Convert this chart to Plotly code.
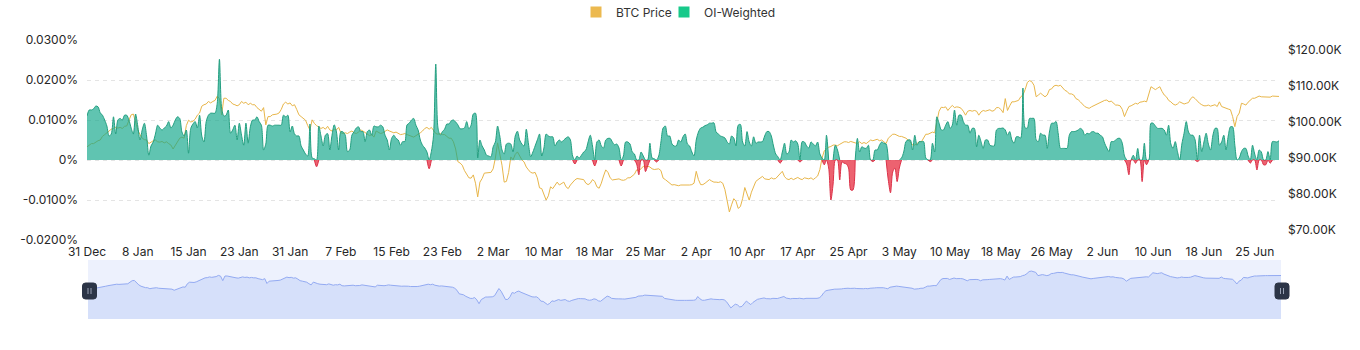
import numpy as np
import pandas as pd
import plotly.graph_objects as go

# OI-weighted funding rate (%), one value per 8-hour settlement
oi_weighted = [
    0.0110, 0.0125, 0.0125, 0.0128, 0.0135, 0.0133, 0.0118, 0.0112, 0.0100, 0.0085, 0.0060, 0.0065, 0.0108, 0.0065, 0.0100, 0.0104, 0.0100, 0.0112,
    0.0112, 0.0100, 0.0080, 0.0065, 0.0115, 0.0085, 0.0050, 0.0075, 0.0092, 0.0060, 0.0012, 0.0035, 0.0045, 0.0065, 0.0087, 0.0080, 0.0075, 0.0080,
    0.0085, 0.0096, 0.0080, 0.0087, 0.0100, 0.0108, 0.0104, 0.0070, 0.0060, 0.0075, 0.0017, 0.0079, 0.0090, 0.0096, 0.0080, 0.0112, 0.0060, 0.0045,
    0.0096, 0.0112, 0.0117, 0.0117, 0.0117, 0.0142, 0.0252, 0.0130, 0.0110, 0.0112, 0.0125, 0.0067, 0.0075, 0.0087, 0.0050, 0.0092, 0.0062, 0.0037,
    0.0092, 0.0042, 0.0083, 0.0100, 0.0100, 0.0108, 0.0096, 0.0087, 0.0025, 0.0040, 0.0087, 0.0087, 0.0085, 0.0087, 0.0087, 0.0087, 0.0087, 0.0112,
    0.0108, 0.0112, 0.0070, 0.0085, 0.0065, 0.0060, 0.0060, 0.0035, 0.0025, 0.0015, 0.0010, 0.0090, 0.0005, 0.0003, -0.0017, 0.0085, 0.0060, 0.0035,
    0.0062, 0.0066, 0.0025, 0.0062, 0.0088, 0.0070, 0.0025, 0.0071, 0.0070, 0.0062, 0.0021, 0.0025, 0.0062, 0.0071, 0.0080, 0.0083, 0.0071, 0.0071,
    0.0046, 0.0071, 0.0075, 0.0062, 0.0085, 0.0083, 0.0083, 0.0087, 0.0083, 0.0062, 0.0050, 0.0025, 0.0054, 0.0062, 0.0054, 0.0050, 0.0037, 0.0046,
    0.0046, 0.0088, 0.0092, 0.0100, 0.0104, 0.0087, 0.0075, 0.0050, 0.0037, 0.0030, 0.0020, -0.0022, 0.0021, 0.0062, 0.0240, 0.0080, 0.0062, 0.0071,
    0.0077, 0.0090, 0.0090, 0.0098, 0.0100, 0.0095, 0.0088, 0.0078, 0.0078, 0.0080, 0.0096, 0.0078, 0.0087, 0.0115, 0.0117, 0.0005, 0.0050, 0.0035,
    0.0025, 0.0012, 0.0010, 0.0008, 0.0033, 0.0045, 0.0085, 0.0060, 0.0025, 0.0015, 0.0040, 0.0042, 0.0040, 0.0020, 0.0060, 0.0072, 0.0050, 0.0040,
    0.0035, 0.0077, 0.0040, 0.0008, 0.0020, 0.0035, 0.0050, 0.0065, 0.0010, 0.0030, 0.0065, 0.0060, 0.0058, 0.0058, 0.0035, 0.0045, 0.0050, 0.0045,
    0.0050, 0.0055, 0.0058, 0.0050, 0.0010, -0.0010, 0.0010, 0.0005, 0.0012, 0.0020, 0.0025, 0.0045, 0.0062, 0.0035, -0.0015, 0.0045, 0.0050, 0.0035,
    0.0030, 0.0050, 0.0054, 0.0054, 0.0045, 0.0038, 0.0040, 0.0030, -0.0015, 0.0010, 0.0045, 0.0045, 0.0040, 0.0020, 0.0015, -0.0010, -0.0037, 0.0020,
    0.0010, -0.0029, -0.0015, 0.0042, 0.0005, 0.0003, -0.0005, 0.0010, 0.0045, 0.0080, 0.0085, 0.0060, 0.0060, 0.0040, 0.0035, 0.0035, 0.0050, 0.0045,
    0.0058, 0.0065, 0.0040, 0.0035, 0.0020, 0.0010, 0.0050, 0.0070, 0.0080, 0.0082, 0.0086, 0.0088, 0.0092, 0.0092, 0.0093, 0.0070, 0.0065, 0.0060,
    0.0058, 0.0055, 0.0045, 0.0040, 0.0060, 0.0055, 0.0035, 0.0087, 0.0089, 0.0045, 0.0035, 0.0071, 0.0045, 0.0035, 0.0058, 0.0042, 0.0045, 0.0045,
    0.0046, 0.0060, 0.0071, 0.0071, 0.0060, 0.0035, 0.0015, 0.0008, -0.0008, 0.0020, 0.0042, 0.0015, 0.0020, 0.0050, 0.0045, 0.0048, 0.0040, -0.0005,
    0.0046, 0.0045, 0.0035, 0.0030, 0.0045, 0.0040, 0.0035, 0.0045, 0.0015, 0.0005, -0.0012, 0.0062, -0.0020, -0.0100, -0.0060, 0.0037, 0.0025, -0.0050,
    -0.0005, -0.0008, -0.0010, -0.0020, -0.0075, -0.0075, 0.0000, 0.0054, 0.0020, 0.0033, 0.0030, 0.0029, 0.0037, 0.0000, -0.0004, 0.0025, 0.0025, 0.0037,
    0.0045, 0.0042, 0.0040, -0.0050, -0.0082, -0.0030, -0.0020, -0.0054, -0.0020, 0.0005, 0.0020, 0.0046, 0.0050, 0.0050, 0.0025, 0.0062, 0.0037, 0.0046,
    0.0046, 0.0046, 0.0005, 0.0000, -0.0004, 0.0042, 0.0020, 0.0108, 0.0092, 0.0075, 0.0075, 0.0087, 0.0096, 0.0079, 0.0087, 0.0125, 0.0087, 0.0112,
    0.0112, 0.0096, 0.0087, 0.0087, 0.0067, 0.0079, 0.0079, 0.0033, 0.0062, 0.0046, 0.0029, 0.0050, 0.0050, 0.0037, 0.0035, 0.0035, 0.0075, 0.0079,
    0.0079, 0.0080, 0.0075, 0.0062, 0.0071, 0.0050, 0.0042, 0.0058, 0.0058, 0.0055, 0.0180, 0.0080, 0.0080, 0.0104, 0.0104, 0.0104, 0.0050, 0.0046,
    0.0067, 0.0062, 0.0062, 0.0029, 0.0070, 0.0092, 0.0092, 0.0096, 0.0065, 0.0029, 0.0029, 0.0029, 0.0029, 0.0062, 0.0071, 0.0071, 0.0072, 0.0075,
    0.0079, 0.0075, 0.0062, 0.0067, 0.0065, 0.0070, 0.0071, 0.0067, 0.0067, 0.0062, 0.0058, 0.0042, 0.0030, 0.0021, 0.0046, 0.0046, 0.0050, 0.0054,
    0.0054, 0.0042, 0.0010, -0.0010, -0.0037, 0.0000, 0.0012, -0.0008, 0.0029, 0.0000, -0.0054, 0.0042, -0.0012, 0.0000, 0.0092, 0.0092, 0.0085, 0.0079,
    0.0079, 0.0079, 0.0075, 0.0062, 0.0087, 0.0040, 0.0029, 0.0046, 0.0021, 0.0000, 0.0040, 0.0067, 0.0096, 0.0070, 0.0062, 0.0062, 0.0050, -0.0004,
    0.0062, 0.0021, 0.0045, 0.0067, 0.0040, 0.0025, 0.0060, 0.0079, 0.0079, 0.0037, 0.0045, 0.0062, 0.0025, 0.0060, 0.0083, 0.0083, 0.0037, 0.0000,
    0.0005, 0.0021, 0.0029, 0.0029, 0.0010, -0.0008, 0.0037, 0.0015, -0.0025, 0.0025, 0.0020, -0.0012, -0.0012, 0.0021, -0.0008, 0.0046, 0.0046, 0.0045,
    0.0048,
]

# BTC price (thousand USD) at the same settlement times
btc_price = [
    93.1, 93.5, 94.0, 94.0, 94.5, 94.8, 95.0, 96.0, 96.5, 97.0, 97.5, 98.0, 98.2, 98.5, 98.3, 98.5, 98.2, 98.8,
    98.9, 100.5, 102.0, 102.2, 99.6, 97.8, 96.5, 95.5, 95.1, 95.0, 94.0, 94.5, 94.8, 95.0, 94.5, 94.4, 94.6, 94.2,
    94.5, 94.0, 93.6, 92.5, 93.5, 94.5, 95.5, 95.8, 95.5, 99.0, 100.5, 100.0, 100.2, 100.8, 101.9, 102.5, 104.4, 104.8,
    105.0, 105.7, 105.3, 105.7, 106.0, 107.2, 106.5, 102.0, 106.6, 106.6, 106.0, 105.7, 105.0, 104.8, 104.5, 104.8, 105.7, 105.2,
    105.5, 104.8, 105.2, 104.8, 104.8, 104.0, 103.5, 103.0, 104.0, 99.2, 101.5, 101.5, 102.0, 102.0, 102.2, 102.5, 103.5, 105.0,
    105.5, 105.0, 105.3, 104.5, 104.8, 103.5, 102.0, 101.5, 101.0, 100.5, 99.0, 97.8, 100.6, 99.6, 99.0, 98.5, 98.2, 98.5,
    98.0, 98.8, 97.8, 97.5, 98.0, 97.8, 98.5, 97.0, 96.8, 97.0, 96.8, 97.2, 97.5, 97.0, 96.8, 97.2, 97.8, 97.5,
    97.0, 96.5, 96.2, 96.5, 95.8, 97.5, 97.2, 96.8, 97.0, 97.3, 97.8, 97.5, 97.2, 97.0, 97.2, 96.8, 96.5, 96.6,
    96.8, 96.5, 96.2, 96.0, 95.8, 96.2, 96.5, 97.0, 97.5, 98.2, 98.5, 98.0, 98.5, 97.5, 96.8, 96.6, 96.8, 96.5,
    96.5, 96.0, 95.5, 95.5, 94.5, 92.5, 89.0, 88.6, 88.0, 86.5, 85.5, 84.5, 84.4, 85.3, 83.0, 79.2, 83.3, 84.3,
    85.8, 85.8, 86.0, 86.0, 87.0, 90.0, 94.2, 91.5, 88.0, 83.3, 83.5, 86.0, 90.3, 89.5, 91.0, 91.7, 90.5, 89.5,
    88.9, 87.5, 86.7, 86.0, 85.8, 86.0, 84.5, 81.7, 81.5, 80.0, 78.3, 79.5, 82.0, 81.5, 82.5, 83.3, 82.5, 83.0,
    83.3, 82.0, 81.5, 82.5, 83.3, 83.9, 84.3, 84.2, 84.0, 84.0, 83.0, 82.6, 83.0, 84.0, 83.5, 82.0, 81.6, 83.0,
    85.0, 86.7, 86.0, 84.5, 83.9, 84.0, 84.0, 84.2, 83.9, 83.8, 84.0, 84.5, 84.5, 85.0, 85.5, 86.7, 86.5, 87.0,
    87.7, 87.5, 87.7, 87.5, 87.0, 86.8, 86.8, 87.0, 86.5, 84.4, 84.0, 83.5, 83.0, 82.5, 82.6, 82.5, 82.3, 82.5,
    82.5, 82.5, 82.3, 82.5, 82.6, 83.0, 86.3, 84.0, 82.6, 82.6, 83.0, 83.5, 84.0, 83.6, 83.3, 83.3, 83.2, 83.4,
    83.0, 81.2, 78.0, 75.0, 77.0, 78.7, 78.0, 76.0, 76.5, 78.7, 81.8, 80.0, 78.3, 80.5, 82.0, 83.5, 84.0, 84.5,
    84.9, 84.2, 84.0, 84.0, 84.5, 84.2, 84.3, 85.0, 85.5, 86.3, 84.8, 84.2, 84.0, 84.4, 84.0, 84.3, 84.6, 84.2,
    84.0, 84.5, 84.4, 84.2, 84.5, 84.0, 84.5, 85.0, 86.8, 90.0, 92.0, 92.5, 93.0, 93.2, 93.6, 93.6, 93.4, 93.8,
    94.2, 94.5, 94.5, 94.3, 94.6, 94.5, 94.2, 94.0, 94.5, 94.0, 94.3, 94.0, 94.5, 95.0, 94.8, 95.0, 95.2, 94.8,
    95.0, 94.5, 94.0, 95.5, 96.0, 96.6, 96.6, 96.3, 96.0, 96.0, 95.8, 95.5, 95.0, 94.5, 93.6, 93.6, 94.0, 94.5,
    94.5, 95.5, 96.6, 96.6, 97.0, 97.2, 97.0, 100.5, 103.0, 104.1, 104.0, 104.2, 103.2, 104.0, 104.6, 104.0, 104.2, 104.1,
    103.8, 103.0, 101.9, 103.0, 103.2, 103.0, 103.2, 103.0, 101.9, 102.8, 103.2, 103.0, 103.2, 103.4, 103.0, 103.2, 104.0, 104.0,
    103.5, 102.6, 106.5, 103.2, 104.5, 105.6, 105.6, 105.8, 106.0, 107.0, 107.5, 109.0, 111.0, 111.5, 111.2, 110.2, 107.0, 107.5,
    108.0, 107.5, 107.0, 107.5, 109.0, 109.2, 110.0, 110.2, 110.0, 110.2, 109.5, 108.8, 108.5, 107.8, 107.8, 107.5, 106.5, 106.2,
    105.6, 105.0, 104.3, 104.0, 103.8, 104.2, 104.5, 104.7, 105.2, 105.5, 105.8, 106.0, 106.1, 105.6, 105.8, 105.2, 104.7, 104.7,
    104.5, 103.5, 101.5, 103.0, 104.3, 104.5, 104.8, 105.2, 105.0, 105.5, 105.6, 105.8, 105.6, 107.5, 109.8, 109.4, 109.0, 109.4,
    109.8, 108.5, 107.5, 107.0, 106.0, 105.6, 105.0, 104.7, 105.0, 105.6, 105.2, 105.0, 105.2, 105.4, 106.5, 107.0, 106.5, 105.8,
    105.2, 104.8, 104.5, 104.5, 104.7, 104.4, 104.5, 104.8, 104.3, 105.6, 104.3, 104.0, 103.8, 103.6, 103.4, 101.5, 98.7, 101.5,
    102.5, 105.2, 105.0, 104.7, 105.5, 106.2, 106.6, 106.6, 106.8, 107.2, 107.0, 107.0, 107.0, 107.0, 106.9, 107.2, 107.2, 107.0,
    107.1,
]

# x-axis labels, one every 23 settlements
date_labels = [
    "31 Dec", "8 Jan", "15 Jan", "23 Jan", "31 Jan", "7 Feb", "15 Feb", "23 Feb",
    "2 Mar", "10 Mar", "18 Mar", "25 Mar", "2 Apr", "10 Apr", "17 Apr", "25 Apr",
    "3 May", "10 May", "18 May", "26 May", "2 Jun", "10 Jun", "18 Jun", "25 Jun",
]
label_every = 23

rate_ticks = [-0.02, -0.01, 0.0, 0.01, 0.02, 0.03]
rate_tick_labels = ["-0.0200%", "-0.0100%", "0%", "0.0100%", "0.0200%", "0.0300%"]
price_ticks = [70, 80, 90, 100, 110, 120]
price_tick_labels = ["$70.00K", "$80.00K", "$90.00K", "$100.00K", "$110.00K", "$120.00K"]

assert len(oi_weighted) == len(btc_price)

times = pd.date_range("2024-12-31 08:00", periods=len(oi_weighted), freq="8h")
tick_times = times[::label_every][: len(date_labels)]

# split the funding curve into positive (green) and negative (red) bands
rate = np.array(oi_weighted)
prev_r = np.r_[rate[0], rate[:-1]]
next_r = np.r_[rate[1:], rate[-1]]
pos_keep = (rate > 0) | (prev_r > 0) | (next_r > 0)
neg_keep = (rate < 0) | (prev_r < 0) | (next_r < 0)
pos_band = np.where(pos_keep, np.maximum(rate, 0), np.nan)
neg_band = np.where(neg_keep, np.minimum(rate, 0), np.nan)

price = np.array(btc_price)
span = price.max() - price.min()
nav_range = [price.min() - 0.3 * span, price.max() + 0.3 * span]

FONT = "Inter, Roboto, sans-serif"
TICK_COLOR = "#262626"
GRID = "#e4e4e4"

# pixel layout of the page
W, H = 1360, 350
ML, MR, MT, MB = 87, 79, 40, 31
pw, ph = W - ML - MR, H - MT - MB
main_right = 1279
nav_left = 88
main_bottom, nav_top = 240, 260
main_dom_x = [0, (main_right - ML) / pw]
nav_dom_x = [(nav_left - ML) / pw, 1]
main_dom_y = [(H - MB - main_bottom) / ph, 1]
nav_dom_y = [0, (H - MB - nav_top) / ph]

fig = go.Figure()

fig.add_trace(go.Scatter(
    x=times, y=price, xaxis="x", yaxis="y", mode="lines",
    line=dict(color="#e8b64a", width=1), name="BTC Price",
    showlegend=False, hoverinfo="skip",
))
fig.add_trace(go.Scatter(
    x=times, y=pos_band, xaxis="x", yaxis="y2", mode="lines",
    line=dict(color="#239f80", width=1, shape="spline", smoothing=0.8),
    fill="tozeroy", fillcolor="rgba(20,168,140,0.68)",
    name="OI-Weighted", showlegend=False, hoverinfo="skip",
))
fig.add_trace(go.Scatter(
    x=times, y=neg_band, xaxis="x", yaxis="y2", mode="lines",
    line=dict(color="#dc3148", width=1, shape="spline", smoothing=0.8),
    fill="tozeroy", fillcolor="rgba(230,31,51,0.7)",
    name="OI-Weighted (negative)", showlegend=False, hoverinfo="skip",
))

# legend swatches, one legend box each so they can sit close together
fig.add_trace(go.Scatter(
    x=[None], y=[None], mode="markers", name="BTC Price",
    marker=dict(symbol="square", size=11, color="#ecb94f"),
    xaxis="x", yaxis="y", legend="legend",
))
fig.add_trace(go.Scatter(
    x=[None], y=[None], mode="markers", name="OI-Weighted",
    marker=dict(symbol="square", size=11, color="#17c98a"),
    xaxis="x", yaxis="y", legend="legend2",
))

# overview navigator below the chart
fig.add_trace(go.Scatter(
    x=times, y=price, xaxis="x2", yaxis="y3", mode="lines",
    line=dict(color="#93aaf2", width=1), fill="tozeroy", fillcolor="#d6e0fa",
    showlegend=False, hoverinfo="skip",
))

axis_common = dict(showline=False, zeroline=False, ticks="",
                   tickfont=dict(family=FONT, size=12, color=TICK_COLOR))
legend_common = dict(
    orientation="h", xref="container", yref="container",
    xanchor="left", y=1 - 12 / H, yanchor="middle",
    font=dict(family=FONT, size=12, color="#333"),
    itemwidth=30, bgcolor="rgba(0,0,0,0)", borderwidth=0,
)

fig.update_layout(
    width=W, height=H,
    margin=dict(l=ML, r=MR, t=MT, b=MB, pad=0, autoexpand=False),
    paper_bgcolor="white", plot_bgcolor="rgba(0,0,0,0)",
    font=dict(family=FONT, size=12, color="#333"),
    hovermode=False,
    xaxis=dict(
        domain=main_dom_x, anchor="y", type="date",
        range=[times[0], times[-1]],
        tickmode="array", tickvals=list(tick_times), ticktext=date_labels,
        showgrid=False, ticklabelstandoff=3, automargin=False, **axis_common,
    ),
    yaxis=dict(
        domain=main_dom_y, anchor="x", side="right",
        range=[67.222, 122.778],
        tickmode="array", tickvals=price_ticks, ticktext=price_tick_labels,
        showgrid=False, ticklabelstandoff=8, automargin=False, **axis_common,
    ),
    yaxis2=dict(
        overlaying="y", anchor="x", side="left",
        range=[-0.02, 0.03],
        tickmode="array", tickvals=rate_ticks, ticktext=rate_tick_labels,
        showgrid=True, gridcolor=GRID, griddash="4px,4px", gridwidth=1,
        ticklabelstandoff=8, automargin=False, **axis_common,
    ),
    xaxis2=dict(domain=nav_dom_x, anchor="y3", type="date",
                range=[times[0], times[-1]], visible=False),
    yaxis3=dict(domain=nav_dom_y, anchor="x2", range=nav_range, visible=False),
    legend=dict(x=576 / W, **legend_common),
    legend2=dict(x=664 / W, **legend_common),
)

# navigator background and handles
shapes = [
    dict(type="rect", xref="x2 domain", yref="y3 domain", x0=0, x1=1, y0=0, y1=1,
         fillcolor="#edf1fd", line=dict(width=0), layer="below"),
]
handle_y = (H - MB - 291) / ph
for hx in (89.5, 1282):
    xa = (hx - ML) / pw
    shapes.append(dict(
        type="path", xref="paper", yref="paper", xsizemode="pixel", ysizemode="pixel",
        xanchor=xa, yanchor=handle_y,
        path="M -4,-8 L 4,-8 Q 7,-8 7,-5 L 7,5 Q 7,8 4,8 L -4,8 Q -7,8 -7,5 L -7,-5 Q -7,-8 -4,-8 Z",
        fillcolor="#2c3547", line=dict(color="#2c3547", width=1), layer="above",
    ))
    for dx in (-1.5, 1.5):
        shapes.append(dict(
            type="line", xref="paper", yref="paper", xsizemode="pixel", ysizemode="pixel",
            xanchor=xa, yanchor=handle_y, x0=dx, x1=dx, y0=-3, y1=3,
            line=dict(color="#9aa3b5", width=1), layer="above",
        ))
fig.update_layout(shapes=shapes)

fig.write_html("out.html")
